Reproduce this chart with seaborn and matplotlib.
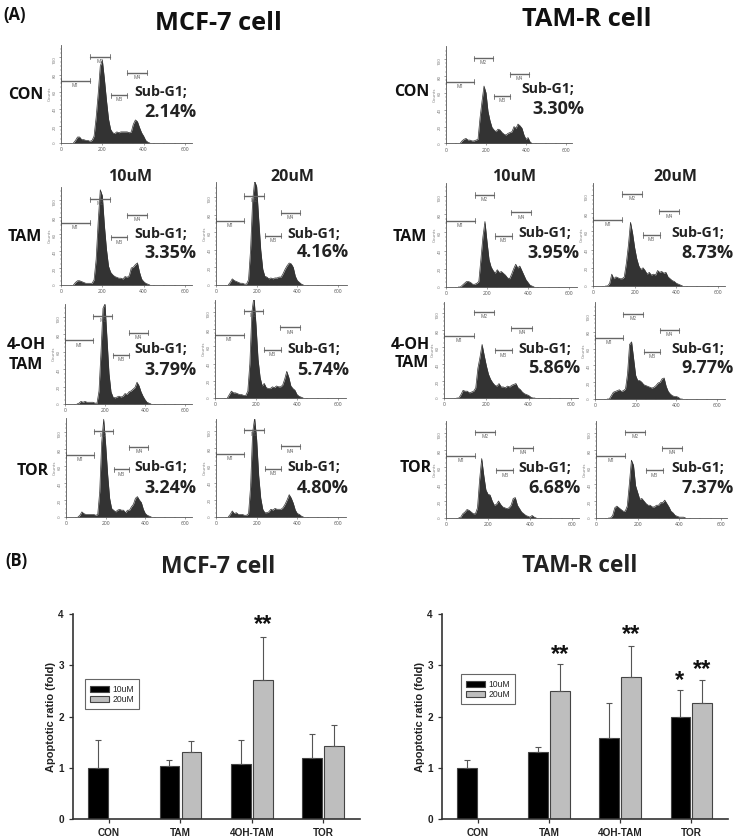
import numpy as np
import pandas as pd
import matplotlib
matplotlib.use("Agg")
import matplotlib.pyplot as plt
import seaborn as sns

W, H = 735, 838

# ---- flow cytometry histograms: counts per channel
channels = list(range(60, 440, 10))

mcf_con = [0, 3, 7, 7, 4, 4, 3, 3, 2, 3, 8, 30, 58, 90, 97, 75, 50, 28, 16, 12, 11, 13, 12, 13, 13, 13, 13, 12, 13, 22, 27, 25, 18, 12, 8, 3, 1, 0]
mcf_tam10 = [0, 3, 5, 5, 4, 3, 2, 2, 2, 2, 6, 30, 75, 112, 105, 70, 42, 22, 15, 12, 10, 9, 8, 8, 7, 10, 9, 11, 20, 21, 24, 26, 15, 7, 4, 2, 1, 0]
mcf_tam20 = [0, 3, 7, 5, 4, 3, 2, 2, 1, 1, 6, 40, 95, 118, 112, 75, 40, 18, 10, 9, 7, 8, 7, 8, 8, 9, 9, 13, 18, 22, 25, 24, 20, 10, 5, 3, 1, 0]
mcf_oh10 = [0, 1, 3, 2, 3, 2, 2, 2, 2, 1, 1, 15, 60, 110, 115, 75, 35, 14, 8, 7, 8, 9, 8, 9, 12, 11, 14, 15, 17, 19, 25, 21, 14, 9, 5, 2, 1, 0]
mcf_oh20 = [0, 4, 8, 6, 6, 5, 4, 4, 3, 3, 8, 40, 100, 118, 85, 45, 24, 14, 17, 12, 11, 11, 13, 12, 14, 13, 13, 15, 22, 31, 24, 14, 11, 9, 4, 2, 1, 0]
mcf_tor10 = [0, 2, 6, 4, 3, 3, 3, 3, 3, 2, 3, 30, 88, 115, 85, 50, 22, 10, 8, 6, 8, 9, 8, 8, 5, 8, 8, 12, 15, 22, 24, 20, 17, 9, 4, 2, 1, 0]
mcf_tor20 = [0, 3, 7, 4, 5, 3, 3, 3, 2, 2, 4, 35, 98, 115, 90, 48, 22, 9, 5, 5, 6, 9, 8, 10, 9, 9, 9, 11, 15, 20, 26, 22, 16, 8, 4, 3, 1, 0]

tamr_con = [0, 0, 3, 5, 6, 4, 4, 3, 3, 4, 5, 30, 50, 68, 60, 38, 27, 19, 16, 14, 17, 16, 13, 11, 10, 12, 13, 14, 20, 18, 23, 21, 18, 10, 5, 7, 2, 0]
tamr_tam10 = [0, 0, 2, 4, 6, 6, 5, 3, 3, 4, 6, 30, 55, 72, 50, 30, 22, 18, 15, 19, 16, 17, 15, 13, 10, 9, 14, 20, 25, 21, 23, 18, 13, 8, 5, 2, 1, 0]
tamr_tam20 = [0, 0, 3, 13, 8, 10, 9, 8, 8, 10, 25, 45, 70, 58, 42, 30, 22, 18, 20, 17, 13, 15, 12, 13, 12, 17, 15, 16, 14, 15, 10, 8, 6, 5, 3, 2, 1, 0]
tamr_oh10 = [0, 0, 4, 9, 8, 8, 6, 7, 8, 12, 35, 48, 63, 50, 38, 28, 22, 18, 15, 14, 17, 13, 13, 12, 14, 13, 15, 16, 17, 12, 10, 7, 5, 4, 3, 1, 0, 0]
tamr_oh20 = [0, 0, 4, 8, 9, 10, 11, 9, 10, 12, 30, 65, 68, 48, 28, 22, 22, 20, 17, 16, 15, 14, 13, 14, 16, 19, 20, 24, 25, 15, 9, 6, 4, 3, 3, 2, 0, 0]
tamr_tor10 = [0, 1, 5, 7, 10, 9, 7, 5, 5, 12, 45, 70, 50, 33, 28, 27, 20, 15, 16, 20, 16, 13, 12, 11, 12, 15, 23, 24, 15, 11, 7, 5, 3, 2, 1, 3, 1, 0]
tamr_tor20 = [0, 0, 3, 12, 14, 12, 10, 8, 8, 14, 40, 68, 62, 38, 30, 22, 23, 20, 17, 15, 15, 13, 13, 15, 15, 18, 18, 21, 17, 13, 8, 6, 3, 2, 1, 1, 1, 0]

sub_g1 = ["2.14%", "3.35%", "4.16%", "3.79%", "5.74%", "3.24%", "4.80%",
          "3.30%", "3.95%", "8.73%", "5.86%", "9.77%", "6.68%", "7.37%"]
hist_series = [mcf_con, mcf_tam10, mcf_tam20, mcf_oh10, mcf_oh20, mcf_tor10, mcf_tor20,
               tamr_con, tamr_tam10, tamr_tam20, tamr_oh10, tamr_oh20, tamr_tor10, tamr_tor20]

# marker gates: name, start, end, level
gate_names = ["M1", "M2", "M3", "M4"]
gate_start = [0, 140, 240, 318]
gate_end = [140, 235, 320, 415]
gate_level = [73, 101, 56, 82]

# ---- bar charts
groups = ["CON", "TAM", "4OH-TAM", "TOR"]
doses = ["10uM", "20uM"]
mcf_10 = [1.0, 1.03, 1.07, 1.20]
mcf_20 = [np.nan, 1.30, 2.72, 1.43]
mcf_10_top = [1.55, 1.16, 1.54, 1.65]
mcf_20_top = [np.nan, 1.52, 3.56, 1.83]
tamr_10 = [1.0, 1.30, 1.59, 2.0]
tamr_20 = [np.nan, 2.50, 2.78, 2.26]
tamr_10_top = [1.15, 1.41, 2.27, 2.52]
tamr_20_top = [np.nan, 3.03, 3.38, 2.71]

sns.set_theme(style="white")
plt.rcParams["font.family"] = ["Open Sans", "DejaVu Sans"]
fig = plt.figure(figsize=(W / 100, H / 100), dpi=100)


def px_axes(left, top, right, bottom):
    return fig.add_axes([left / W, 1 - bottom / H, (right - left) / W, (bottom - top) / H])


def px_text(x, y, s, size, weight="normal", ha="left", color="#111111"):
    fig.text(x / W, 1 - y / H, s, fontsize=size, fontweight=weight, ha=ha, va="center", color=color)


# x0, x600, right, base, y100, top in pixels for each panel
geometry = [
    (61, 185, 192, 143, 57.5, 45), (61, 185, 192, 285, 200, 187), (216, 338, 347, 285, 197, 182),
    (65, 185, 192, 404, 317, 304), (215, 338, 346, 398, 312, 300), (66, 185, 192, 517, 432, 418),
    (216, 338, 346, 517, 431, 419),
    (446, 566, 572, 143.5, 59, 46), (446, 569, 577, 287, 196, 183), (593, 718, 725, 286, 195, 183),
    (444, 571, 578, 398, 313, 302), (595, 717, 725, 399, 315, 302), (446, 572, 579, 518, 433, 421),
    (596, 721, 727, 518, 433, 421),
]
# Sub-G1 label and percentage label positions
label_pos = [
    (134, 92, 144, 112), (134, 234, 144, 253), (287, 234, 297, 252), (134, 349, 144, 370),
    (287, 349, 297, 370), (134, 467, 144, 488), (287, 467, 297, 488),
    (521, 89, 532, 109), (518, 233, 527, 253), (671, 233, 681, 253), (518, 349, 528, 368),
    (671, 349, 681, 368), (518, 468, 528, 488), (671, 468, 681, 488),
]

for geo, counts, pct, pos in zip(geometry, hist_series, sub_g1, label_pos):
    x0, x600, right, base, y100, top = geo
    ax = px_axes(x0, top, right, base)
    sns.lineplot(x=channels, y=counts, ax=ax, color="#333333", linewidth=0.5, errorbar=None)
    ax.fill_between(channels, counts, color="#333333", linewidth=0)
    ax.set_xlim(0, (right - x0) / (x600 - x0) * 600)
    ax.set_ylim(0, (base - top) / (base - y100) * 100)
    ax.patch.set_alpha(0)
    sns.despine(ax=ax)
    for side in ["left", "bottom"]:
        ax.spines[side].set_linewidth(0.6)
        ax.spines[side].set_color("#555555")
    ax.set_xticks([0, 200, 400, 600])
    ax.set_yticks([0, 20, 40, 60, 80, 100])
    ax.set_xticks(range(0, 601, 50), minor=True)
    ax.set_yticks(range(0, 111, 5), minor=True)
    ax.tick_params(axis="x", which="major", labelsize=3.6, length=1.5, width=0.4, pad=1.5,
                   labelcolor="#555555", color="#555555", bottom=True)
    ax.tick_params(axis="y", which="major", labelsize=3.2, length=1.5, width=0.4, pad=1.5,
                   labelcolor="#777777", color="#555555", labelrotation=90, left=True)
    ax.tick_params(axis="both", which="minor", length=0.8, width=0.3, color="#555555",
                   bottom=True, left=True)
    ax.set_ylabel("Counts", fontsize=3.2, color="#777777", labelpad=1)
    for name, g0, g1, lev in zip(gate_names, gate_start, gate_end, gate_level):
        ax.plot([g0, g1], [lev, lev], color="#666666", lw=1.0, clip_on=False)
        for g in [g0, g1]:
            ax.plot([g, g], [lev - 3, lev + 3], color="#666666", lw=0.6, clip_on=False)
        ax.text((g0 + g1) / 2, lev - 2.5, name, fontsize=3.4, color="#555555", ha="center", va="top")
    px_text(pos[0], pos[1], "Sub-G1;", 10.2, "bold", color="#222222")
    px_text(pos[2], pos[3], pct, 13, "bold", color="#222222")

# headings of part A
px_text(3, 15, "(A)", 12, "bold")
px_text(218, 24, "MCF-7 cell", 18.3, "bold", ha="center")
px_text(587, 19, "TAM-R cell", 18.3, "bold", ha="center")
for x, s in [(130, "10uM"), (292, "20uM"), (514, "10uM"), (675, "20uM")]:
    px_text(x, 177, s, 11.5, "bold", ha="center", color="#222222")
row_labels = [(26, 95, "CON"), (25, 237, "TAM"), (26, 345, "4-OH"), (26, 365, "TAM"), (33, 471, "TOR"),
              (412, 92, "CON"), (410, 237, "TAM"), (410, 345, "4-OH"), (412, 363, "TAM"), (416, 468, "TOR")]
for x, y, s in row_labels:
    px_text(x, y, s, 11.5, "bold", ha="center")

# part B
px_text(5, 561, "(B)", 12, "bold")
px_text(218, 567, "MCF-7 cell", 16.5, "bold", ha="center", color="#222222")
px_text(580, 566, "TAM-R cell", 16.3, "bold", ha="center", color="#222222")


def draw_bars(box, legend_box, v10, v20, top10, top20):
    ax = px_axes(*box)
    df = pd.DataFrame({
        "group": groups * 2,
        "dose": [doses[0]] * 4 + [doses[1]] * 4,
        "ratio": v10 + v20,
    })
    sns.barplot(data=df, x="group", y="ratio", hue="dose", order=groups, hue_order=doses,
                palette=["black", "#BEBEBE"], width=0.616, gap=0.1, saturation=1,
                edgecolor="#444444", linewidth=0.8, errorbar=None, ax=ax)
    # seaborn leaves out the bar of a missing value, so drop those tops as well
    for cont, tops in zip(ax.containers, [top10, top20]):
        tops = [t for t in tops if not np.isnan(t)]
        for bar, t in zip(cont, tops):
            xc = bar.get_x() + bar.get_width() / 2
            ax.errorbar(xc, bar.get_height(), yerr=[[0], [t - bar.get_height()]], color="#555555",
                        elinewidth=0.8, capsize=2.2, capthick=0.8, zorder=1)
    ax.set_ylim(0, 4)
    ax.set_xlim(-0.504, 3.515)
    ax.set_yticks([0, 1, 2, 3, 4])
    ax.set_xlabel("")
    ax.set_ylabel("Apoptotic ratio (fold)", fontsize=8, fontweight="bold", family="Liberation Sans",
                  labelpad=2, color="#222222")
    sns.despine(ax=ax)
    for side in ["left", "bottom"]:
        ax.spines[side].set_linewidth(1.2)
        ax.spines[side].set_color("#333333")
    ax.tick_params(axis="both", length=3, width=0.9, color="#333333", left=True, bottom=True, pad=3.5)
    for lab in ax.get_xticklabels() + ax.get_yticklabels():
        lab.set_fontsize(7.2)
        lab.set_fontweight("bold")
        lab.set_family("Liberation Sans")
        lab.set_color("#222222")
    ax.patch.set_alpha(0)
    lx0, ly0, lx1, ly1 = legend_box
    bx, by, bw, bh = box[0], box[3], box[2] - box[0], box[3] - box[1]
    leg = ax.legend(title=None, loc="lower left",
                    bbox_to_anchor=((lx0 - bx) / bw, (by - ly1) / bh),
                    borderaxespad=0, prop={"family": "Liberation Sans", "size": 6.2}, fancybox=False,
                    edgecolor="#666666", framealpha=1, handlelength=2.2, handleheight=0.7,
                    labelspacing=0.15, borderpad=0.6, handletextpad=0.4)
    leg.get_frame().set_linewidth(0.8)
    return ax


ax_left = draw_bars((73, 614, 360, 819), (85, 679, 139, 709), mcf_10, mcf_20, mcf_10_top, mcf_20_top)
ax_right = draw_bars((442, 614, 728, 819), (461, 673, 515, 704), tamr_10, tamr_20, tamr_10_top, tamr_20_top)

# significance stars, group position + dodge, height
star_kw = dict(fontsize=17, fontweight="bold", family="Liberation Sans", ha="center", va="center", color="#111111")
ax_left.text(2.16, 3.80, "**", **star_kw)
ax_right.text(1.155, 3.20, "**", **star_kw)
ax_right.text(2.15, 3.60, "**", **star_kw)
ax_right.text(2.84, 2.70, "*", **star_kw)
ax_right.text(3.15, 2.92, "**", **star_kw)

fig.savefig("out.png", dpi=100)
